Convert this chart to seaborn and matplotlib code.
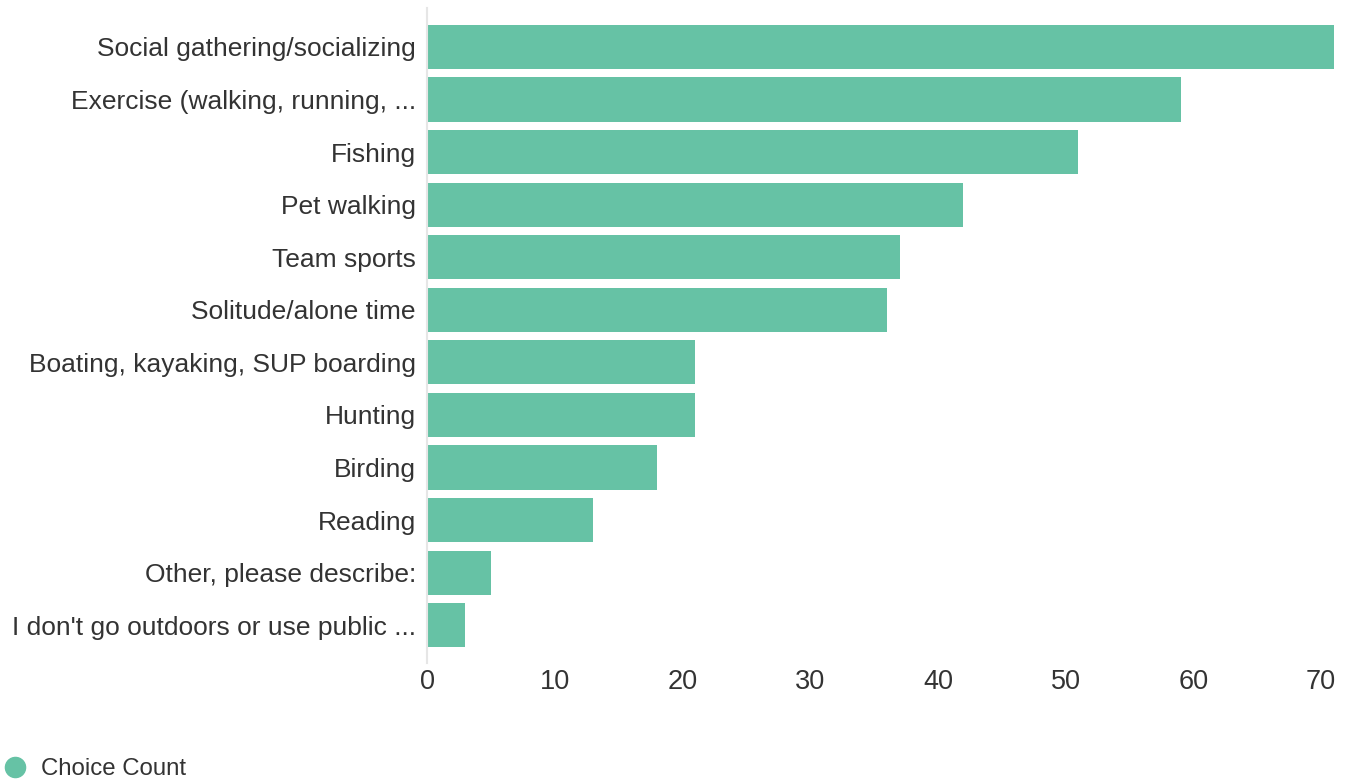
import pandas as pd
import matplotlib
matplotlib.use("Agg")
import matplotlib.pyplot as plt
from matplotlib.lines import Line2D
import seaborn as sns

categories = [
    "Social gathering/socializing",
    "Exercise (walking, running, ...",
    "Fishing",
    "Pet walking",
    "Team sports",
    "Solitude/alone time",
    "Boating, kayaking, SUP boarding",
    "Hunting",
    "Birding",
    "Reading",
    "Other, please describe:",
    "I don't go outdoors or use public ...",
]
counts = [71, 59, 51, 42, 37, 36, 21, 21, 18, 13, 5, 3]
x_ticks = [0, 10, 20, 30, 40, 50, 60, 70]

bar_color = "#66c2a5"
text_color = "#333333"

sns.set_theme(style="white")
plt.rcParams["font.family"] = ["Liberation Sans", "DejaVu Sans"]

df = pd.DataFrame({"category": categories, "count": counts})

fig = plt.figure(figsize=(13.5, 7.8), dpi=100)
ax = fig.add_axes([0.3163, 0.15, 0.9881 - 0.3163, 0.8397])

sns.barplot(data=df, y="category", x="count", color=bar_color, saturation=1,
            width=0.84, orient="h", linewidth=0, ax=ax)

ax.set_xlim(0, 71)
ax.set_ylim(11.72, -0.74)
ax.set_xticks(x_ticks)
ax.set_xlabel("")
ax.set_ylabel("")
ax.tick_params(axis="y", length=0, labelsize=19, colors=text_color, pad=8)
ax.tick_params(axis="x", length=0, labelsize=19.5, colors=text_color, pad=4)

for side in ["top", "right", "bottom"]:
    ax.spines[side].set_visible(False)
ax.spines["left"].set_color("#e6e6e6")
ax.spines["left"].set_linewidth(1.5)

handle = Line2D([], [], marker="o", linestyle="", markersize=14.5,
                markerfacecolor=bar_color, markeredgecolor=bar_color)
fig.legend([handle], ["Choice Count"], loc="lower left",
           bbox_to_anchor=(-0.0227, -0.0277), frameon=False, fontsize=17.3,
           handletextpad=0.1, labelcolor=text_color)

fig.savefig("out.png", dpi=100)
